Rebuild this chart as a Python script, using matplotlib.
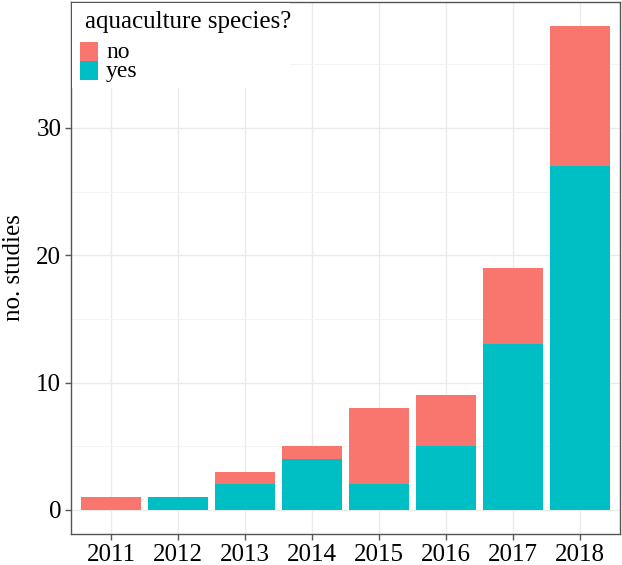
import numpy as np
import matplotlib
matplotlib.use("Agg")
import matplotlib.pyplot as plt
from matplotlib.patches import Rectangle

plt.rcParams['font.family'] = ['Liberation Serif', 'DejaVu Serif']

years = ['2011', '2012', '2013', '2014', '2015', '2016', '2017', '2018']
yes = [0, 1, 2, 4, 2, 5, 13, 27]
no = [1, 0, 1, 1, 6, 4, 6, 11]
legend_labels = ['no', 'yes']

col_no = '#F8766D'
col_yes = '#00BFC4'

W, H = 622, 565
fig = plt.figure(figsize=(W / 100, H / 100), dpi=100)
ax = fig.add_axes([71 / W, 1 - 534 / H, (620 - 71) / W, (534 - 2) / H])

x = np.arange(1, len(years) + 1)
yes = np.array(yes)
no = np.array(no)
ax.bar(x, yes, width=0.9, color=col_yes, zorder=3)
ax.bar(x, no, width=0.9, bottom=yes, color=col_no, zorder=3)

top = (yes + no).max()
pad = top * 0.05
ax.set_ylim(-pad, top + pad)
ax.set_xlim(0.4, len(years) + 0.6)

ax.set_xticks(x)
ax.set_xticklabels(years)
ax.set_yticks([0, 10, 20, 30])
ax.set_yticks([5, 15, 25, 35], minor=True)

ax.grid(True, which='major', color='#EBEBEB', lw=1.0, zorder=0)
ax.grid(True, which='minor', axis='y', color='#F3F3F3', lw=0.6, zorder=0)
ax.set_axisbelow(True)

for s in ax.spines.values():
    s.set_color('#555555')
    s.set_linewidth(1.0)
ax.tick_params(axis='both', which='major', length=4, width=1, color='#555555',
               labelsize=18, labelcolor='black', pad=3)
ax.tick_params(axis='y', which='minor', length=0)

ax.set_ylabel('no. studies', fontsize=18, labelpad=8)


# legend drawn by hand (pixel positions from top-left of figure)
def px(x0, y0):
    return x0 / W, 1 - y0 / H


tf = fig.transFigure
bx, by = px(72, 88)
ax.add_patch(Rectangle((bx, by), (290 - 72) / W, (88 - 3) / H, transform=tf,
                       facecolor='white', edgecolor='none', zorder=4, clip_on=False))
fig.text(*px(85, 28), 'aquaculture species?', fontsize=18, va='baseline', ha='left', zorder=6)
for i, (lab, c) in enumerate(zip(legend_labels, [col_no, col_yes])):
    y_top = 42 + i * 19
    kx, ky = px(80, y_top + 19)
    ax.add_patch(Rectangle((kx, ky), 18 / W, 19 / H, transform=tf, facecolor=c,
                           edgecolor='none', zorder=5, clip_on=False))
    fig.text(*px(106, y_top + 16), lab, fontsize=17, va='baseline', ha='left', zorder=6)

fig.savefig('out.png', dpi=100)
